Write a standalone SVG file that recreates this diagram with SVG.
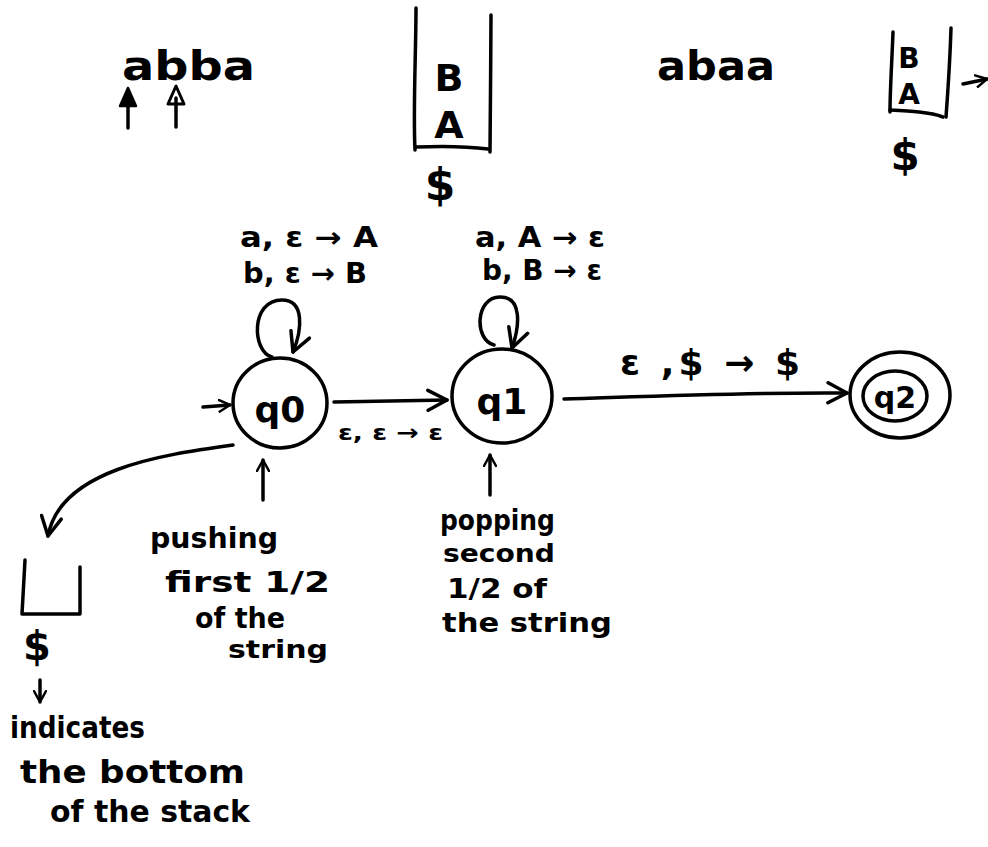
<svg xmlns="http://www.w3.org/2000/svg" width="988" height="847" viewBox="0 0 988 847">
  <defs>
    <style>
      .ink{fill:none;stroke:#000;stroke-width:3.5;stroke-linecap:round;stroke-linejoin:round}
      .solid{fill:#000;stroke:#000;stroke-width:2.5;stroke-linejoin:round}
      text{font-family:"DejaVu Sans","Liberation Sans",sans-serif;fill:#000;font-weight:bold}
      .lbl{font-size:28px}
      .note{font-size:28px}
      .sym{font-size:40px}
      .mid{text-anchor:middle}
    </style>
    <marker id="head" viewBox="0 0 14 14" refX="12" refY="7" markerWidth="14" markerHeight="14" markerUnits="userSpaceOnUse" orient="auto">
      <path d="M1,1 L12,7 L1,13" fill="none" stroke="#000" stroke-width="2.5" stroke-linecap="round" stroke-linejoin="round"/>
    </marker>
    <marker id="headBig" viewBox="0 0 24 24" refX="21" refY="12" markerWidth="24" markerHeight="24" markerUnits="userSpaceOnUse" orient="auto">
      <path d="M2,2 L21,12 L2,22" fill="none" stroke="#000" stroke-width="3.5" stroke-linecap="round" stroke-linejoin="round"/>
    </marker>
  </defs>

  <!-- input string with read pointers -->
  <g id="input-abba">
    <text x="122" y="80" class="sym" textLength="133" lengthAdjust="spacingAndGlyphs">abba</text>
    <path class="ink" d="M128,128 L128,100"/>
    <path class="solid" d="M128,88 L120,106 L136,106 Z"/>
    <path class="ink" d="M176,127 L176,98"/>
    <path d="M176,86 L168,104 L184,104 Z" fill="none" stroke="#000" stroke-width="3" stroke-linejoin="round"/>
  </g>

  <!-- stack after reading "ab" -->
  <g id="stack-1">
    <path class="ink" d="M416,8 C416,50 413,110 415,150"/>
    <path class="ink" d="M416,147 C440,146 465,146 488,149"/>
    <path class="ink" d="M491,15 C491,60 490,110 490,152"/>
    <text x="449" y="91" class="mid" font-size="38">B</text>
    <text x="449" y="138" class="mid" font-size="38">A</text>
    <text x="440" y="200" class="mid" font-size="44">$</text>
  </g>

  <g id="input-abaa">
    <text x="657" y="80" class="sym" textLength="118" lengthAdjust="spacingAndGlyphs">abaa</text>
  </g>

  <g id="stack-2">
    <path class="ink" d="M893,32 C892,60 890,90 890,112"/>
    <path class="ink" d="M890,110 C910,111 930,112 943,117"/>
    <path class="ink" d="M951,28 C950,60 948,90 946,117"/>
    <text x="909" y="68" class="mid" font-size="28">B</text>
    <text x="909" y="104" class="mid" font-size="28">A</text>
    <text x="905" y="170" class="mid" font-size="42">$</text>
    <path class="ink" d="M963,84 L987,79" marker-end="url(#head)"/>
  </g>

  <!-- transitions -->
  <g id="connectors">
    <path class="ink" d="M203,407 L230,405" marker-end="url(#head)"/>
    <path class="ink" d="M272,357 C252,352 250,300 282,300 C305,300 302,330 293,352" marker-end="url(#headBig)"/>
    <path class="ink" d="M334,402 L447,400" marker-end="url(#headBig)"/>
    <path class="ink" d="M494,345 C474,340 475,297 500,297 C522,297 520,325 512,348" marker-end="url(#headBig)"/>
    <path class="ink" d="M564,399 C660,396 760,392 847,393" marker-end="url(#headBig)"/>
    <path class="ink" d="M263,500 L263,460" marker-end="url(#head)"/>
    <path class="ink" d="M490,495 L490,455" marker-end="url(#head)"/>
    <path class="ink" d="M233,445 C160,455 60,470 48,536" marker-end="url(#headBig)"/>
    <path class="ink" d="M40,680 L40,702" marker-end="url(#head)"/>
  </g>

  <!-- transition labels -->
  <g id="labels">
    <text x="240" y="247" class="lbl" textLength="138" lengthAdjust="spacingAndGlyphs">a, ε → A</text>
    <text x="243" y="283" class="lbl" textLength="124" lengthAdjust="spacingAndGlyphs">b, ε → B</text>
    <text x="475" y="247" class="lbl" textLength="130" lengthAdjust="spacingAndGlyphs">a, A → ε</text>
    <text x="482" y="280" class="lbl" textLength="120" lengthAdjust="spacingAndGlyphs">b, B → ε</text>
    <text x="338" y="440" font-size="22" textLength="105" lengthAdjust="spacingAndGlyphs">ε, ε → ε</text>
    <text x="620" y="375" font-size="36" textLength="180" lengthAdjust="spacing">ε ,$ → $</text>
  </g>

  <g id="q0">
    <ellipse class="ink" cx="280" cy="403" rx="47" ry="45"/>
    <text x="280" y="422" class="mid" font-size="36" font-weight="normal">q0</text>
  </g>

  <g id="q1">
    <ellipse class="ink" cx="502" cy="396" rx="50" ry="47"/>
    <text x="502" y="414" class="mid" font-size="36" font-weight="normal">q1</text>
  </g>

  <g id="q2">
    <ellipse class="ink" cx="900" cy="395" rx="50" ry="43"/>
    <ellipse class="ink" cx="895" cy="396" rx="32" ry="25"/>
    <text x="895" y="408" class="mid" font-size="30" font-weight="normal">q2</text>
  </g>

  <!-- empty stack with bottom marker -->
  <g id="stack-empty">
    <path class="ink" d="M25,560 L22,614 L80,614 L80,567"/>
    <text x="37" y="660" class="mid" font-size="40">$</text>
  </g>

  <!-- notes -->
  <g id="note-push">
    <text x="150" y="548" class="note" textLength="128" lengthAdjust="spacingAndGlyphs">pushing</text>
    <text x="165" y="592" class="note" textLength="165" lengthAdjust="spacingAndGlyphs">first 1/2</text>
    <text x="195" y="628" class="note" textLength="90" lengthAdjust="spacingAndGlyphs">of the</text>
    <text x="228" y="658" font-size="24" textLength="100" lengthAdjust="spacingAndGlyphs">string</text>
  </g>

  <g id="note-pop">
    <text x="440" y="530" class="note" textLength="115" lengthAdjust="spacingAndGlyphs">popping</text>
    <text x="443" y="562" font-size="24" textLength="112" lengthAdjust="spacingAndGlyphs">second</text>
    <text x="447" y="598" font-size="26" textLength="100" lengthAdjust="spacingAndGlyphs">1/2 of</text>
    <text x="442" y="632" font-size="26" textLength="170" lengthAdjust="spacingAndGlyphs">the string</text>
  </g>

  <g id="note-bottom">
    <text x="10" y="738" font-size="30" textLength="135" lengthAdjust="spacingAndGlyphs">indicates</text>
    <text x="20" y="783" font-size="32" textLength="225" lengthAdjust="spacingAndGlyphs">the bottom</text>
    <text x="50" y="822" font-size="30" textLength="200" lengthAdjust="spacingAndGlyphs">of the stack</text>
  </g>
</svg>
